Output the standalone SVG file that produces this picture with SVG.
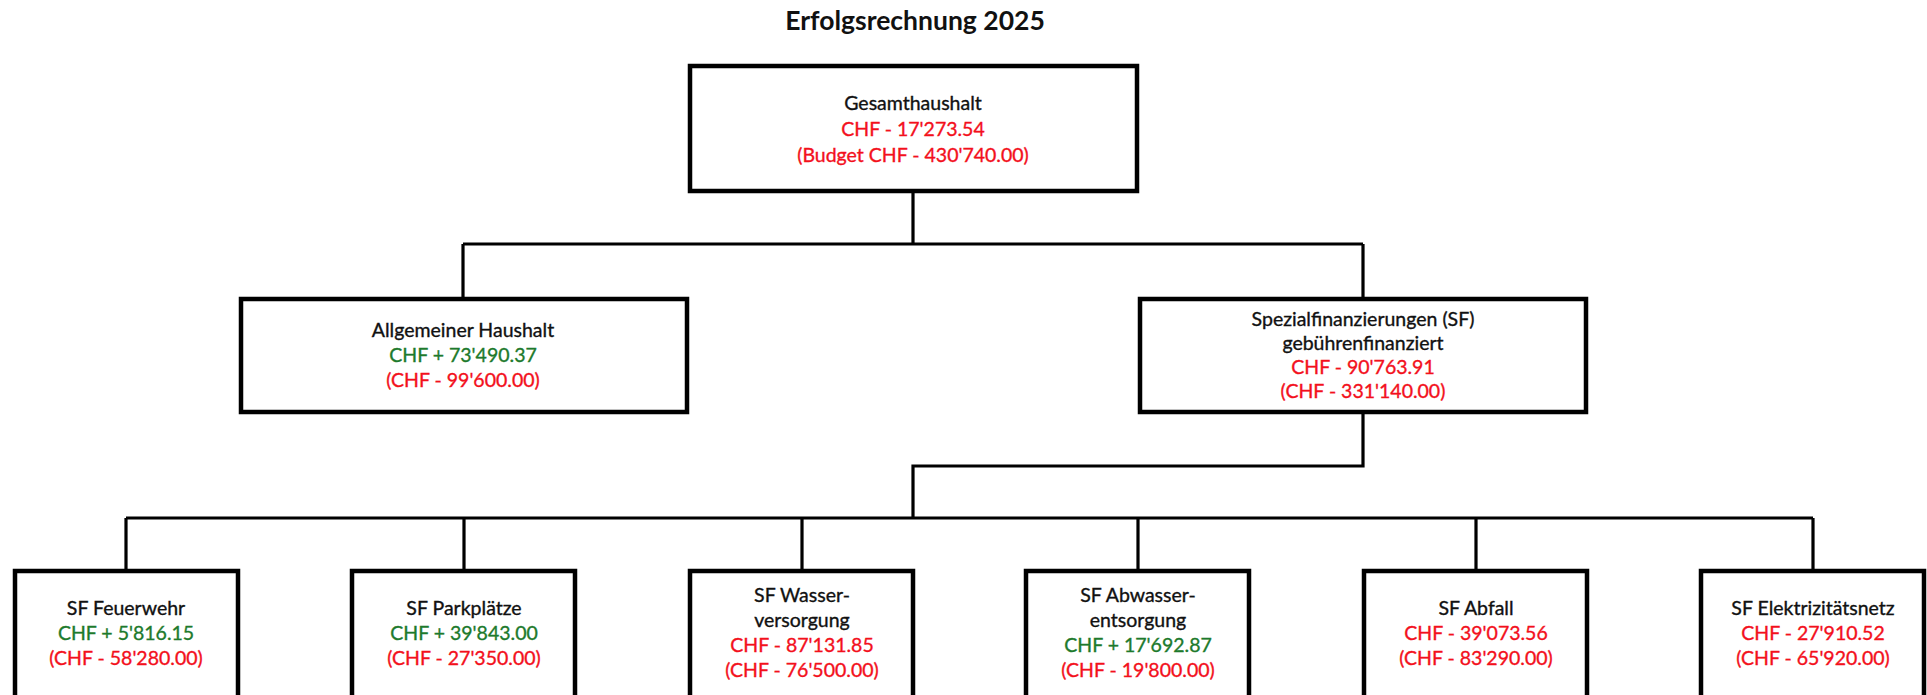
<svg xmlns="http://www.w3.org/2000/svg" width="1927" height="695" viewBox="0 0 1927 695">
<style>
.box{fill:#fff;stroke:#000;stroke-width:4.5}
.con{fill:none;stroke:#000;stroke-width:3.2}
text{font-family:Lato,"Open Sans","Liberation Sans",sans-serif;font-size:19.5px;text-anchor:middle;stroke-width:0.35px}
.k{fill:#111;stroke:#111}
.r{fill:#f3101c;stroke:#f3101c}
.g{fill:#1d7a2c;stroke:#1d7a2c}
.t{font-size:26.5px;font-weight:bold;fill:#111;stroke:none}
</style>
<rect width="1927" height="695" fill="#fff"/>
<text class="t" x="915" y="30">Erfolgsrechnung 2025</text>
<g id="connectors">
<path class="con" d="M913 193V244M463 244H1363M463 244V297M1363 244V297"/>
<path class="con" d="M1363 414V466H913V518M126 518H1813M126 518V569M464 518V569M802 518V569M1138 518V569M1476 518V569M1813 518V569"/>
</g>
<g id="gesamt">
<rect class="box" x="690" y="66" width="447" height="125"/>
<text class="k" x="913" y="110">Gesamthaushalt</text>
<text class="r" x="913" y="136">CHF - 17'273.54</text>
<text class="r" x="913" y="162">(Budget CHF - 430'740.00)</text>
</g>
<g id="allgemein">
<rect class="box" x="241" y="299" width="446" height="113"/>
<text class="k" x="463" y="337">Allgemeiner Haushalt</text>
<text class="g" x="463" y="362">CHF + 73'490.37</text>
<text class="r" x="463" y="387">(CHF - 99'600.00)</text>
</g>
<g id="spezial">
<rect class="box" x="1140" y="299" width="446" height="113"/>
<text class="k" x="1363" y="326">Spezialfinanzierungen (SF)</text>
<text class="k" x="1363" y="350">gebührenfinanziert</text>
<text class="r" x="1363" y="374">CHF - 90'763.91</text>
<text class="r" x="1363" y="398">(CHF  - 331'140.00)</text>
</g>
<g id="feuerwehr">
<rect class="box" x="15" y="571" width="223" height="170"/>
<text class="k" x="126" y="615">SF Feuerwehr</text>
<text class="g" x="126" y="640">CHF + 5'816.15</text>
<text class="r" x="126" y="665">(CHF - 58'280.00)</text>
</g>
<g id="parkplaetze">
<rect class="box" x="352" y="571" width="223" height="170"/>
<text class="k" x="464" y="615">SF Parkplätze</text>
<text class="g" x="464" y="640">CHF + 39'843.00</text>
<text class="r" x="464" y="665">(CHF - 27'350.00)</text>
</g>
<g id="wasser">
<rect class="box" x="690" y="571" width="223" height="170"/>
<text class="k" x="802" y="602">SF Wasser-</text>
<text class="k" x="802" y="627">versorgung</text>
<text class="r" x="802" y="652">CHF - 87'131.85</text>
<text class="r" x="802" y="677">(CHF - 76'500.00)</text>
</g>
<g id="abwasser">
<rect class="box" x="1026" y="571" width="223" height="170"/>
<text class="k" x="1138" y="602">SF Abwasser-</text>
<text class="k" x="1138" y="627">entsorgung</text>
<text class="g" x="1138" y="652">CHF + 17'692.87</text>
<text class="r" x="1138" y="677">(CHF - 19'800.00)</text>
</g>
<g id="abfall">
<rect class="box" x="1364" y="571" width="223" height="170"/>
<text class="k" x="1476" y="615">SF Abfall</text>
<text class="r" x="1476" y="640">CHF - 39'073.56</text>
<text class="r" x="1476" y="665">(CHF - 83'290.00)</text>
</g>
<g id="elektrizitaet">
<rect class="box" x="1701" y="571" width="223" height="170"/>
<text class="k" x="1813" y="615">SF Elektrizitätsnetz</text>
<text class="r" x="1813" y="640">CHF - 27'910.52</text>
<text class="r" x="1813" y="665">(CHF - 65'920.00)</text>
</g>
</svg>
